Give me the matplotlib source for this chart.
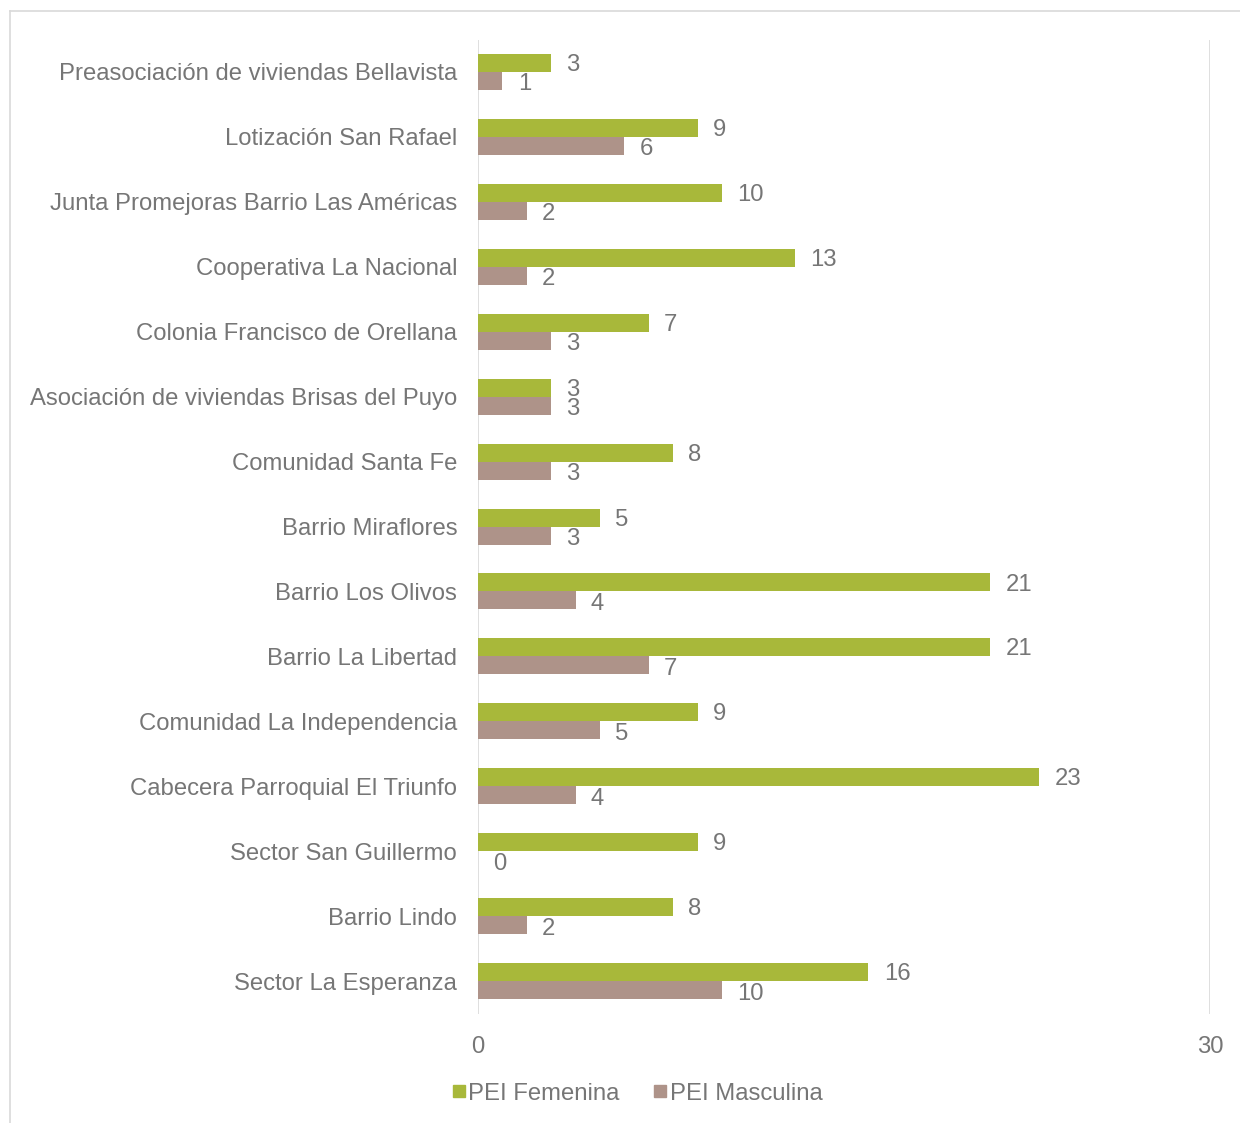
import matplotlib
matplotlib.use("Agg")
import matplotlib.pyplot as plt
from matplotlib.lines import Line2D
import numpy as np

plt.rcParams["font.family"] = ["Liberation Sans", "DejaVu Sans"]

categories = [
    "Preasociación de viviendas Bellavista",
    "Lotización San Rafael",
    "Junta Promejoras Barrio Las Américas",
    "Cooperativa La Nacional",
    "Colonia Francisco de Orellana",
    "Asociación de viviendas Brisas del Puyo",
    "Comunidad Santa Fe",
    "Barrio Miraflores",
    "Barrio Los Olivos",
    "Barrio La Libertad",
    "Comunidad La Independencia",
    "Cabecera Parroquial El Triunfo",
    "Sector San Guillermo",
    "Barrio Lindo",
    "Sector La Esperanza",
]
pei_femenina = [3, 9, 10, 13, 7, 3, 8, 5, 21, 21, 9, 23, 9, 8, 16]
pei_masculina = [1, 6, 2, 2, 3, 3, 3, 3, 4, 7, 5, 4, 0, 2, 10]

GREEN = "#a8b83a"
BROWN = "#ae9389"
TEXT = "#767676"
GRID = "#d9d9d9"
FS = 17.2

fig = plt.figure(figsize=(12.4, 11.23), dpi=100)
ax = fig.add_axes([0.3855, 0.0975, 0.5903, 0.8673])

y = np.arange(len(categories))
h = 0.277
ax.barh(y - h / 2, pei_femenina, height=h, color=GREEN, label="PEI Femenina", zorder=3)
ax.barh(y + h / 2, pei_masculina, height=h, color=BROWN, label="PEI Masculina", zorder=3)

for yi, v in zip(y, pei_femenina):
    ax.annotate(str(v), (v, yi - h / 2), xytext=(11, -1.5), textcoords="offset points",
                ha="left", va="center", fontsize=FS, color=TEXT)
for yi, v in zip(y, pei_masculina):
    ax.annotate(str(v), (v, yi + h / 2), xytext=(11, -2.5), textcoords="offset points",
                ha="left", va="center", fontsize=FS, color=TEXT)

ax.set_ylim(len(categories) - 0.5, -0.5)
ax.set_xlim(0, 30)
ax.set_xticks([0, 30])
ax.set_yticks(y)
ax.set_yticklabels(categories)
ax.tick_params(axis="both", length=0, labelsize=FS, labelcolor=TEXT)
ax.tick_params(axis="y", pad=15)
ax.tick_params(axis="x", pad=16)
for s in ax.spines.values():
    s.set_visible(False)
ax.grid(axis="x", color=GRID, lw=1.2, zorder=0)

handles = [
    Line2D([], [], marker="s", ls="", color=GREEN, markersize=8),
    Line2D([], [], marker="s", ls="", color=BROWN, markersize=8),
]
fig.legend(handles, ["PEI Femenina", "PEI Masculina"], loc="center",
           bbox_to_anchor=(0.512, 0.026), ncol=2, frameon=False,
           fontsize=FS, labelcolor=TEXT, handletextpad=-0.1, columnspacing=1.2,
           handlelength=1.0)

# chart area border (partially visible)
fig.add_artist(Line2D([10 / 1240, 1.0], [1 - 11 / 1123] * 2, color="#d9d9d9", lw=1.2))
fig.add_artist(Line2D([10 / 1240] * 2, [0, 1 - 11 / 1123], color="#d9d9d9", lw=1.2))

fig.savefig("out.png", dpi=100)
